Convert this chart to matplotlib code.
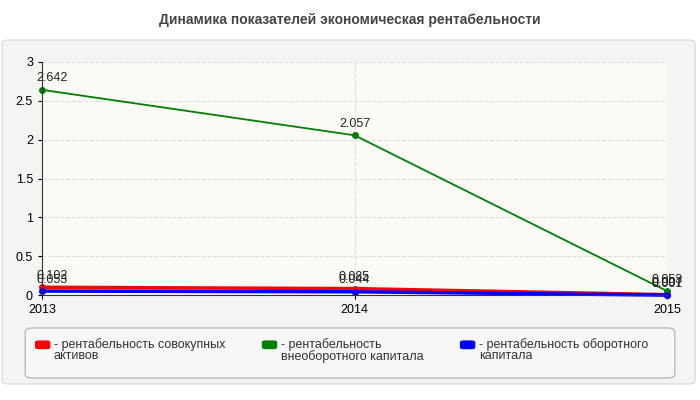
import matplotlib
matplotlib.use("Agg")
import matplotlib.pyplot as plt
from matplotlib.patches import FancyBboxPatch

plt.rcParams['font.family'] = ['Liberation Sans', 'DejaVu Sans']

years = [2013, 2014, 2015]
labels = ["- рентабельность совокупных\nактивов", "- рентабельность\nвнеоборотного капитала", "- рентабельность оборотного\nкапитала"]
red = [0.102, 0.085, 0.007]
green = [2.642, 2.057, 0.053]
blue = [0.053, 0.044, 0.001]
colors = ["#ff0000", "#008000", "#0000ff"]

fig = plt.figure(figsize=(7, 4), dpi=100)
fig.patch.set_facecolor("white")
fig.patches.append(FancyBboxPatch((0.003, 0.04), 0.99, 0.86, boxstyle="round,pad=0,rounding_size=0.01",
                                  transform=fig.transFigure, facecolor="#f4f4f4", edgecolor="#dddddd", lw=1, zorder=-10))
fig.patches.append(FancyBboxPatch((0.036, 0.055), 0.928, 0.125, boxstyle="round,pad=0,rounding_size=0.01",
                                  transform=fig.transFigure, facecolor="#f7f7f7", edgecolor="#bbbbbb", lw=1, zorder=-9))
fig.text(0.5, 0.95, "Динамика показателей экономическая рентабельности", ha="center", va="center",
         fontsize=10, fontweight="bold", color="#444444")

ax = fig.add_axes([0.06, 0.262, 0.893, 0.583])
ax.set_zorder(5)
ax.set_facecolor("#fbfbf5")
for s, c in zip([red, green, blue], colors):
    ax.plot(years, s, color=c, lw=1.3 if c == "#008000" else 2.5, marker="o", ms=4, clip_on=False)
for s, c in zip([red, green, blue], colors):
    for x, y in zip(years, s):
        ax.annotate(f"{y:.3f}", (x, y), textcoords="offset points", xytext=(7 if x == 2013 else 0, 6),
                    ha="center", fontsize=9, color="#222222")
ax.set_xlim(2013, 2015)
ax.set_ylim(0, 3)
ax.set_xticks(years)
ax.set_yticks([0, 0.5, 1, 1.5, 2, 2.5, 3])
ax.set_yticklabels(["0", "0.5", "1", "1.5", "2", "2.5", "3"])
ax.grid(True, color="#dddddd", ls="--", lw=0.8)
for sp in ["top", "right"]:
    ax.spines[sp].set_visible(False)
ax.spines["left"].set_color("#333333")
ax.spines["bottom"].set_color("#333333")
ax.tick_params(labelsize=9, length=3)

xs = [0.05, 0.374, 0.657]
for x, l, c in zip(xs, labels, colors):
    fig.patches.append(FancyBboxPatch((x, 0.127), 0.022, 0.022, boxstyle="round,pad=0,rounding_size=0.005",
                                      transform=fig.transFigure, facecolor=c, edgecolor="none"))
    fig.text(x + 0.027, 0.155, l, ha="left", va="top", fontsize=9, color="#333333", linespacing=0.95)

fig.savefig("out.png", dpi=100)
